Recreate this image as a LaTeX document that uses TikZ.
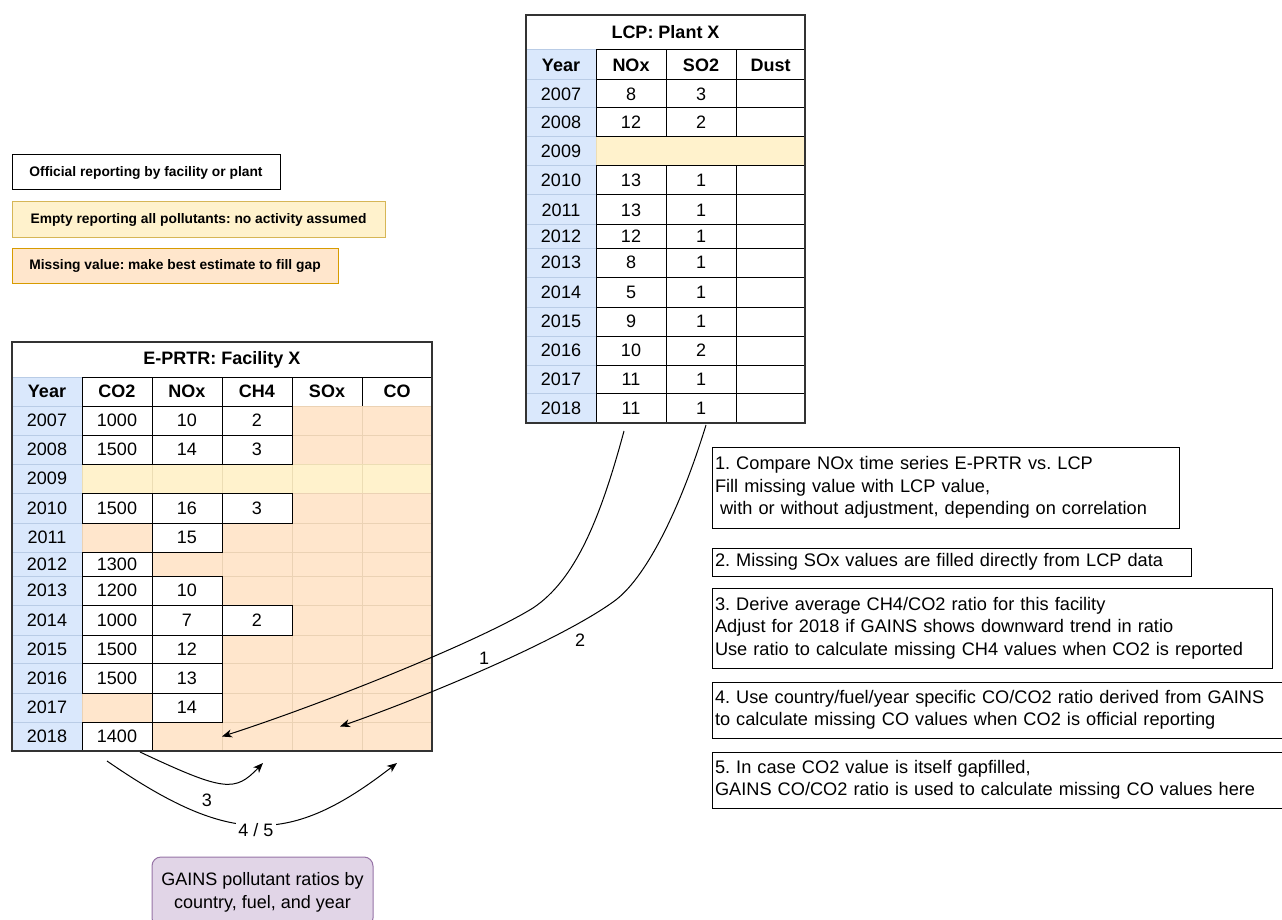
\documentclass[tikz,border=0pt]{standalone}
\usepackage{fontspec}
\setmainfont{Liberation Sans}
\usetikzlibrary{arrows.meta,calc}
\frenchspacing
\definecolor{yearblue}{HTML}{DAE8FC}
\definecolor{yearline}{HTML}{B9CCE6}
\definecolor{emptyfill}{HTML}{FFF2CC}
\definecolor{emptyline}{HTML}{ECDDB4}
\definecolor{missfill}{HTML}{FFE6CC}
\definecolor{missline}{HTML}{EBD2B4}
\definecolor{legyellow}{HTML}{D6B656}
\definecolor{legorange}{HTML}{D79B00}
\definecolor{gainsfill}{HTML}{E1D5E7}
\definecolor{gainsline}{HTML}{9673A6}
\definecolor{framecol}{HTML}{333333}

\newcommand\cellnode[7]{%
  \node[#6, minimum width={(#4)-(#2)}, minimum height={(#5)-(#3)}] (#1) at ({((#2)+(#4))/2},{((#3)+(#5))/2}) {#7};}

\tikzset{
  tcell/.style={inner sep=0pt, outer sep=0pt, line width=1pt, font=\fontsize{18}{20}\selectfont},
  offcell/.style={tcell, draw=black, fill=white},
  hdrcell/.style={offcell, font=\fontsize{18}{20}\selectfont\bfseries},
  yrcell/.style={tcell, draw=yearline, fill=yearblue},
  yrhdr/.style={yrcell, font=\fontsize{18}{20}\selectfont\bfseries},
  misscell/.style={tcell, draw=missline, fill=missfill},
  emptycell/.style={tcell, draw=emptyline, fill=emptyfill},
  legbox/.style={inner sep=0pt, outer sep=0pt, line width=1pt, font=\fontsize{13.8}{16}\selectfont\bfseries},
  note/.style={draw=black, line width=1pt, anchor=north west, inner xsep=3pt, inner ysep=0pt, outer sep=0pt, align=left, font=\fontsize{18.2}{22.5}\selectfont},
  arr/.style={draw=black, line width=1pt, -{Stealth[length=10pt,width=8pt,inset=3pt]}},
  lbl/.style={inner sep=2pt, font=\fontsize{18}{20}\selectfont},
  tframe/.style={draw=framecol, line width=1.2pt}
}

\begin{document}
\begin{tikzpicture}[x=1pt,y=-1pt]
\useasboundingbox (0,0) rectangle (1282,920);

% ---------------- Legend ----------------
\cellnode{leg1}{12}{155}{280}{190}{legbox, draw=black, fill=white}{Official reporting by facility or plant}
\cellnode{leg2}{12}{202}{385}{237}{legbox, draw=legyellow, fill=emptyfill}{Empty reporting all pollutants: no activity assumed}
\cellnode{leg3}{12}{248}{338}{283}{legbox, draw=legorange, fill=missfill}{Missing value: make best estimate to fill gap}

% ---------------- LCP table ----------------
\cellnode{l-title}{526}{15}{805}{50}{hdrcell}{LCP: Plant X}
\cellnode{l-year}{526}{50}{596}{80}{yrhdr}{Year}
\cellnode{l-nox}{596}{50}{666}{80}{hdrcell}{NOx}
\cellnode{l-so2}{666}{50}{736}{80}{hdrcell}{SO2}
\cellnode{l-dust}{736}{50}{805}{80}{hdrcell}{Dust}
\foreach \yr/\ya/\yb in {2007/80/108,2008/108/137,2009/137/166,2010/166/195,2011/195/225,2012/225/248,2013/248/277,2014/277/307,2015/307/336,2016/336/365,2017/365/393,2018/393/423}{
  \cellnode{ly-\yr}{526}{\ya}{596}{\yb}{yrcell}{\yr}
}
\cellnode{l-2009}{596}{137}{805}{166}{emptycell}{}
\foreach \yr/\ya/\yb/\n/\s in {2007/80/108/8/3,2008/108/137/12/2,2010/166/195/13/1,2011/195/225/13/1,2012/225/248/12/1,2013/248/277/8/1,2014/277/307/5/1,2015/307/336/9/1,2016/336/365/10/2,2017/365/393/11/1,2018/393/423/11/1}{
  \cellnode{l-nox-\yr}{596}{\ya}{666}{\yb}{offcell}{\n}
  \cellnode{l-so2-\yr}{666}{\ya}{736}{\yb}{offcell}{\s}
  \cellnode{l-dust-\yr}{736}{\ya}{805}{\yb}{offcell}{}
}
\draw[tframe] (526,15) rectangle (805,423);

% ---------------- E-PRTR table ----------------
\cellnode{e-title}{12}{342}{432}{377}{hdrcell}{E-PRTR: Facility X}
\cellnode{e-year}{12}{377}{82}{406}{yrhdr}{Year}
\cellnode{e-co2}{82}{377}{152}{406}{hdrcell}{CO2}
\cellnode{e-nox}{152}{377}{222}{406}{hdrcell}{NOx}
\cellnode{e-ch4}{222}{377}{292}{406}{hdrcell}{CH4}
\cellnode{e-sox}{292}{377}{362}{406}{hdrcell}{SOx}
\cellnode{e-co}{362}{377}{432}{406}{hdrcell}{CO}
\foreach \yr/\ya/\yb in {2007/406/435,2008/435/464,2009/464/493,2010/493/523,2011/523/552,2012/552/576,2013/576/605,2014/605/635,2015/635/663,2016/663/693,2017/693/722,2018/722/751}{
  \cellnode{ey-\yr}{12}{\ya}{82}{\yb}{yrcell}{\yr}
  \foreach \c/\xa/\xb in {co2/82/152,nox/152/222,ch4/222/292,sox/292/362,co/362/432}{
    \ifnum\yr=2009
      \cellnode{m-\c-\yr}{\xa}{\ya}{\xb}{\yb}{emptycell}{}
    \else
      \cellnode{m-\c-\yr}{\xa}{\ya}{\xb}{\yb}{misscell}{}
    \fi
  }
}
\foreach \nm/\xa/\xb/\ya/\yb/\t in {co2-2007/82/152/406/435/1000,nox-2007/152/222/406/435/10,ch4-2007/222/292/406/435/2,
  co2-2008/82/152/435/464/1500,nox-2008/152/222/435/464/14,ch4-2008/222/292/435/464/3,
  co2-2010/82/152/493/523/1500,nox-2010/152/222/493/523/16,ch4-2010/222/292/493/523/3,
  nox-2011/152/222/523/552/15,co2-2012/82/152/552/576/1300,
  co2-2013/82/152/576/605/1200,nox-2013/152/222/576/605/10,
  co2-2014/82/152/605/635/1000,nox-2014/152/222/605/635/7,ch4-2014/222/292/605/635/2,
  co2-2015/82/152/635/663/1500,nox-2015/152/222/635/663/12,
  co2-2016/82/152/663/693/1500,nox-2016/152/222/663/693/13,
  nox-2017/152/222/693/722/14,co2-2018/82/152/722/751/1400}{
  \cellnode{e-\nm}{\xa}{\ya}{\xb}{\yb}{offcell}{\t}
}
\draw[tframe] (12,342) rectangle (432,751);

% ---------------- Notes ----------------
\node[note, text width=461pt, minimum height=81pt] (n1) at (712,447)
  {1. Compare NOx time series E-PRTR vs. LCP\\Fill missing value with LCP value,\\\hspace*{0.28em}with or without adjustment, depending on correlation};
\node[note, text width=473pt, minimum height=28pt] (n2) at (712,548)
  {2. Missing SOx values are filled directly from LCP data};
\node[note, text width=554pt, minimum height=80pt] (n3) at (712,588)
  {3. Derive average CH4/CO2 ratio for this facility\\Adjust for 2018 if GAINS shows downward trend in ratio\\Use ratio to calculate missing CH4 values when CO2 is reported};
\node[note, text width=580pt, minimum height=56pt] (n4) at (712,682)
  {4. Use country/fuel/year specific CO/CO2 ratio derived from GAINS\\to calculate missing CO values when CO2 is official reporting};
\node[note, text width=580pt, minimum height=56pt] (n5) at (712,752)
  {5. In case CO2 value is itself gapfilled,\\GAINS CO/CO2 ratio is used to calculate missing CO values here};

% ---------------- GAINS ----------------
\node[draw=gainsline, fill=gainsfill, line width=1pt, rounded corners=9pt, minimum width=221pt, minimum height=70pt, inner sep=0pt, align=center, font=\fontsize{18}{23}\selectfont] (gains) at (262.5,892) {GAINS pollutant ratios by\\country, fuel, and year};

% ---------------- Connectors ----------------
\draw[arr] ($(l-nox-2018.south)+(-7,8)$) .. controls (600,520) and (575,580) .. (533,608)
  .. controls (478,642) and (320,705) .. (m-nox-2018.east);
\draw[arr] ($(l-so2-2018.south)+(5,2)$) .. controls (680,510) and (645,580) .. (613,602)
  .. controls (560,640) and (430,695) .. ($(m-sox-2018.center)+(13,-10)$);
\draw[arr] ($(e-co2-2018.south)+(23,1)$) .. controls (225,792) and (235,792) .. ($(m-ch4-2018.south)+(6,12)$);
\draw[arr] ($(e-co2-2018.south)+(-10,10)$) .. controls (230,846) and (290,846) .. ($(m-co-2018.south)+(0,12)$);

\node[lbl] (lab1) at (484,658) {1};
\node[lbl, fill=white] (lab2) at (580,640) {2};
\node[lbl] (lab3) at (207,800) {3};
\node[lbl, fill=white] (lab45) at (256,830) {4 / 5};
\end{tikzpicture}
\end{document}
